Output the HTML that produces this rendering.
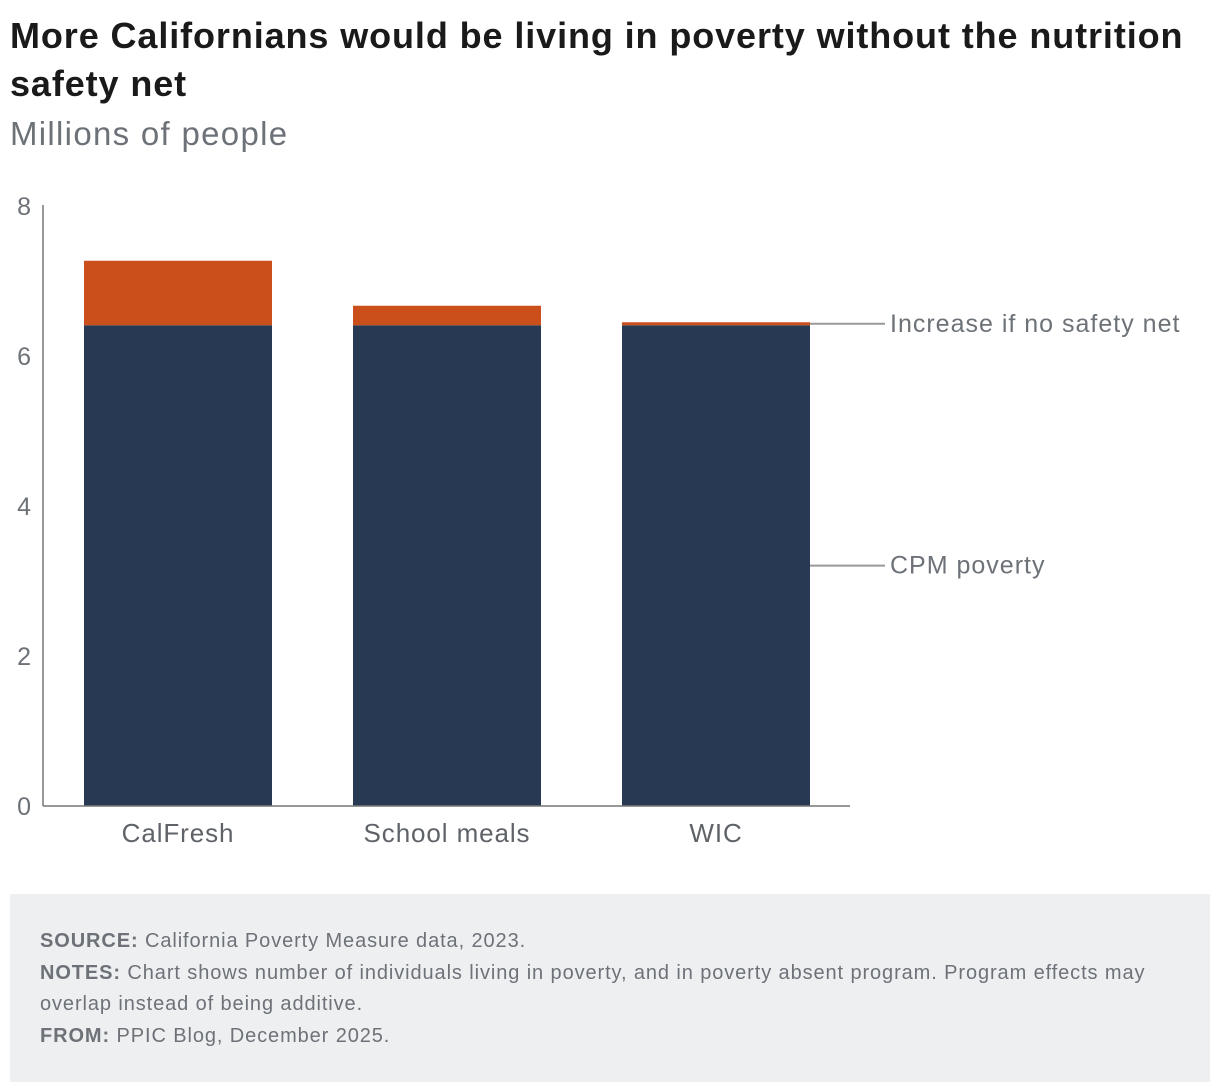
<!DOCTYPE html>
<html><head><meta charset="utf-8"><style>
body{margin:0;width:1220px;height:1092px;background:#fff;font-family:"Liberation Sans",sans-serif;position:relative;overflow:hidden}
#title{position:absolute;left:10px;top:12px;width:1200px;font-size:36px;letter-spacing:0.9px;font-weight:bold;color:#1a1a1a;line-height:48px;margin:0}
#sub{position:absolute;left:10px;top:115px;font-size:33px;letter-spacing:1.3px;color:#6d7278}
#foot{position:absolute;left:10px;top:894px;width:1200px;height:188px;background:#eeeff1;color:#6d7278;font-size:20px;letter-spacing:0.9px;line-height:31.5px}
#foot div{position:absolute;left:30px}
</style></head><body>
<h1 id="title">More Californians would be living in poverty without the nutrition safety net</h1>
<div id="sub">Millions of people</div>
<svg id="chart" width="1220" height="880" style="position:absolute;left:0;top:0"></svg>
<div id="foot">
<div style="top:32px;width:1140px"><b>SOURCE:</b> California Poverty Measure data, 2023.<br><b>NOTES:</b> Chart shows number of individuals living in poverty, and in poverty absent program. Program effects may overlap instead of being additive.<br><b>FROM:</b> PPIC Blog, December 2025.</div>
</div>
<script>
const categories=["CalFresh","School meals","WIC"];
const cpmPoverty=[6.41,6.41,6.41];
const increase=[0.86,0.26,0.04];
const yTicks=[0,2,4,6,8];
const ns="http://www.w3.org/2000/svg";
const svg=document.getElementById('chart');
const y0=806,ppu=75,x0=43,xEnd=850,bw=188,step=269,firstX=84;
const y=v=>y0-v*ppu;
const xb=i=>firstX+i*step;
function mk(t,a){const e=document.createElementNS(ns,t);for(const k in a)e.setAttribute(k,a[k]);svg.appendChild(e);return e;}
yTicks.forEach(t=>{const e=mk('text',{x:31,y:y(t)+9,'text-anchor':'end','font-size':25,fill:'#6d7278'});e.textContent=t;

});
categories.forEach((c,i)=>{
const r1=mk('rect',{x:xb(i),y:y(cpmPoverty[i]),width:bw,height:cpmPoverty[i]*ppu,fill:'#283a53'});


const r2=mk('rect',{x:xb(i),y:y(cpmPoverty[i]+increase[i]),width:bw,height:increase[i]*ppu,fill:'#cb4f1b'});


const t=mk('text',{x:xb(i)+bw/2,y:842,'text-anchor':'middle','font-size':26,'letter-spacing':0.9,fill:'#5f6368'});t.textContent=c;


});
const ax=mk('line',{x1:x0,y1:205,x2:x0,y2:y0,stroke:'#777','stroke-width':1.5});


const bx=mk('line',{x1:x0,y1:y0,x2:xEnd,y2:y0,stroke:'#777','stroke-width':1.5});


const li=categories.length-1;
const lx=xb(li)+bw;
const labs=[["Increase if no safety net",y(cpmPoverty[li]+increase[li]/2)],["CPM poverty",y(cpmPoverty[li]/2)]];
labs.forEach(([s,yy])=>{
const l=mk('line',{x1:lx,y1:yy,x2:885,y2:yy,stroke:'#999','stroke-width':2});


const t=mk('text',{x:890,y:yy+8,'font-size':25,'letter-spacing':1,fill:'#6d7278'});t.textContent=s;


});
</script>
</body></html>
